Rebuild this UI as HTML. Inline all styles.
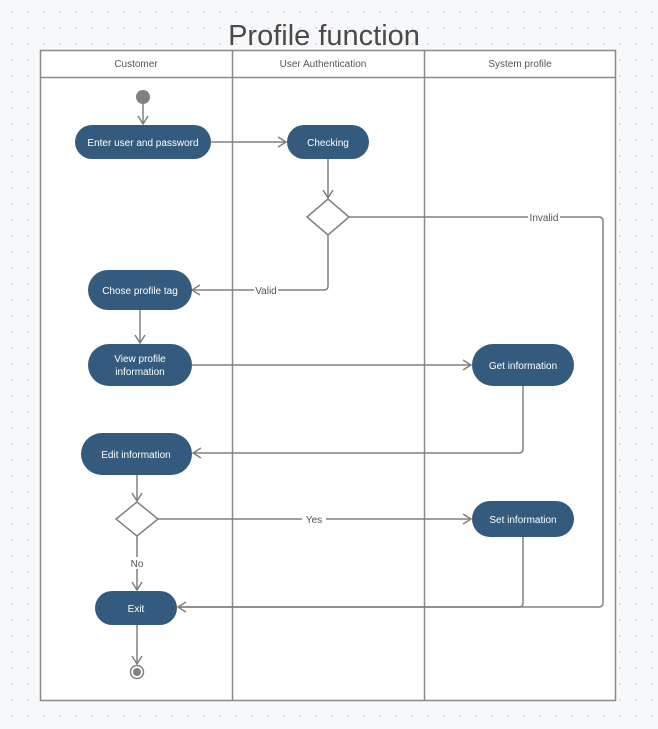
<!DOCTYPE html>
<html><head><meta charset="utf-8"><style>
html,body{margin:0;padding:0;width:658px;height:729px;overflow:hidden;
background-color:#f7f8fa;background-image:radial-gradient(circle,#dadde3 0.9px,transparent 1.2px);background-size:16px 16px;background-position:4px 4px;}
svg{position:absolute;left:0;top:0;font-family:"Liberation Sans",sans-serif;}
</style></head><body>
<svg width="658" height="729" viewBox="0 0 658 729">
<defs>
<marker id="a" markerWidth="12" markerHeight="12" refX="10" refY="6" orient="auto" markerUnits="userSpaceOnUse">
<path d="M2,1 L10,6 L2,11" fill="none" stroke="#808080" stroke-width="1.5"/>
</marker>
</defs>
<text x="324" y="45" font-size="29" fill="#4a4a4a" text-anchor="middle">Profile function</text>
<rect x="40.5" y="50.5" width="575" height="650" fill="#fff" stroke="#8a8a8a" stroke-width="1.5"/>
<line x1="40" y1="77.5" x2="615" y2="77.5" stroke="#8a8a8a" stroke-width="1.5"/>
<line x1="232.5" y1="50" x2="232.5" y2="700" stroke="#8a8a8a" stroke-width="1.5"/>
<line x1="424.5" y1="50" x2="424.5" y2="700" stroke="#8a8a8a" stroke-width="1.5"/>
<g font-size="10" fill="#555" text-anchor="middle">
<text x="136" y="67">Customer</text>
<text x="323" y="67">User Authentication</text>
<text x="520" y="67">System profile</text>
</g>
<g fill="none" stroke="#808080" stroke-width="1.5">
<path d="M143,104 V124" marker-end="url(#a)"/>
<path d="M211,142 H286" marker-end="url(#a)"/>
<path d="M328,159 V198" marker-end="url(#a)"/>
<path d="M349,217 H599 Q603,217 603,221 V603 Q603,607 599,607 H178" marker-end="url(#a)"/>
<path d="M328,235 V286 Q328,290 324,290 H192" marker-end="url(#a)"/>
<path d="M140,310 V343" marker-end="url(#a)"/>
<path d="M192,365 H471" marker-end="url(#a)"/>
<path d="M523,386 V449 Q523,453 519,453 H193" marker-end="url(#a)"/>
<path d="M137,475 V501" marker-end="url(#a)"/>
<path d="M158,519 H471" marker-end="url(#a)"/>
<path d="M137,536 V590" marker-end="url(#a)"/>
<path d="M523,537 V603 Q523,607 519,607 H178"/>
<path d="M137,625 V664" marker-end="url(#a)"/>
<path d="M328,199 L349,217 L328,235 L307,217 Z" fill="#fff"/>
<path d="M137,502 L158,519 L137,536 L116,519 Z" fill="#fff"/>
</g>
<circle cx="143" cy="97" r="7" fill="#808080"/>
<circle cx="137" cy="672" r="6.5" fill="#fff" stroke="#808080" stroke-width="1.5"/>
<circle cx="137" cy="672" r="4" fill="#808080"/>
<g font-size="10" fill="#555" text-anchor="middle">
<rect x="528" y="211" width="32" height="12" fill="#fff"/><text x="544" y="221">Invalid</text>
<rect x="254" y="284" width="24" height="12" fill="#fff"/><text x="266" y="294">Valid</text>
<rect x="302" y="513" width="24" height="12" fill="#fff"/><text x="314" y="523">Yes</text>
<rect x="128" y="557" width="18" height="12" fill="#fff"/><text x="137" y="567">No</text>
</g>
<g fill="#345b7d">
<rect x="75" y="125" width="136" height="34" rx="17"/>
<rect x="287" y="125" width="82" height="34" rx="17"/>
<rect x="88" y="270" width="104" height="40" rx="20"/>
<rect x="88" y="344" width="104" height="42" rx="21"/>
<rect x="472" y="344" width="102" height="42" rx="21"/>
<rect x="81" y="433" width="111" height="42" rx="21"/>
<rect x="472" y="501" width="102" height="36" rx="18"/>
<rect x="95" y="591" width="82" height="34" rx="17"/>
</g>
<g font-size="10" fill="#fff" text-anchor="middle">
<text x="143" y="146">Enter user and password</text>
<text x="328" y="146">Checking</text>
<text x="140" y="294">Chose profile tag</text>
<text x="140" y="362">View profile</text>
<text x="140" y="375">information</text>
<text x="523" y="369">Get information</text>
<text x="136" y="458">Edit information</text>
<text x="523" y="523">Set information</text>
<text x="136" y="612">Exit</text>
</g>
</svg>
</body></html>
